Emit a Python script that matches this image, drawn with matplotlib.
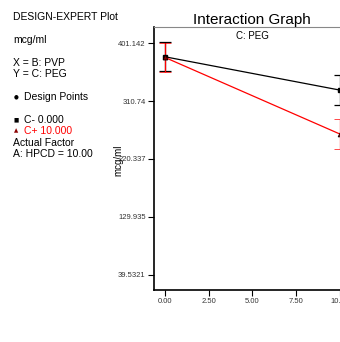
import matplotlib
matplotlib.use("Agg")
import matplotlib.pyplot as plt

plt.rcParams["font.family"] = ["Liberation Sans", "DejaVu Sans"]

# PVP levels and predicted response for the two PEG levels
pvp = [0.0, 10.0]
peg_low = [380.0, 328.0]
peg_high = [379.0, 259.5]
err_low = [23.0, 23.0]
err_high = [23.0, 23.0]

yticks = [39.5321, 129.935, 220.337, 310.74, 401.142]
ytick_labels = ["39.5321", "129.935", "220.337", "310.74", "401.142"]
xticks = [0.0, 2.5, 5.0, 7.5, 10.0]
xtick_labels = ["0.00", "2.50", "5.00", "7.50", "10.00"]

fig = plt.figure(figsize=(3.4, 3.42), dpi=100)
ax = fig.add_axes([154 / 340, 52 / 342, 196 / 340, 263 / 342])

ax.errorbar(pvp, peg_low, yerr=err_low, color="black", lw=0.9,
            marker="s", ms=3.5, capsize=4, elinewidth=0.9, capthick=0.9)
ax.errorbar(pvp, peg_high, yerr=err_high, color="red", lw=0.9,
            marker="^", ms=3.5, mfc="#8b0000", mec="black", mew=0.5,
            capsize=4, elinewidth=0.9, capthick=0.9)

ax.set_xlim(-0.62, 10.6)
ax.set_ylim(15.5, 426.5)
ax.set_xticks(xticks)
ax.set_xticklabels(xtick_labels)
ax.set_yticks(yticks)
ax.set_yticklabels(ytick_labels)
ax.tick_params(labelsize=5.5, colors="black", labelcolor="#333333",
               length=4, width=0.8, pad=2)

for side in ["left", "bottom"]:
    ax.spines[side].set_linewidth(1.2)
ax.spines["top"].set_color("#888888")
ax.spines["top"].set_linewidth(0.8)
ax.spines["right"].set_visible(False)

ax.set_title("Interaction Graph", fontsize=11, pad=2)
ax.text(0.5, 0.985, "C: PEG", transform=ax.transAxes, ha="center",
        va="top", fontsize=7)
ax.set_xlabel("B: PVP", fontsize=7.5, labelpad=32)
fig.text(118 / 340, 1 - 160 / 342, "mcg/ml", rotation=90, ha="center",
         va="center", fontsize=7)

# design-expert side panel
fs = 7.5
fig.text(13 / 340, 1 - 17 / 342, "DESIGN-EXPERT Plot", fontsize=fs, va="center")
fig.text(13 / 340, 1 - 40 / 342, "mcg/ml", fontsize=fs, va="center")
fig.text(13 / 340, 1 - 63 / 342, "X = B: PVP", fontsize=fs, va="center")
fig.text(13 / 340, 1 - 74 / 342, "Y = C: PEG", fontsize=fs, va="center")
fig.text(14 / 340, 1 - 97 / 342, "\u25cf", fontsize=4, va="center",
         family="DejaVu Sans")
fig.text(24 / 340, 1 - 97 / 342, "Design Points", fontsize=fs, va="center")
fig.text(14 / 340, 1 - 120 / 342, "\u25a0", fontsize=4, va="center",
         family="DejaVu Sans")
fig.text(24 / 340, 1 - 120 / 342, "C- 0.000", fontsize=fs, va="center")
fig.text(14 / 340, 1 - 131 / 342, "\u25b2", fontsize=4, va="center",
         color="#8b0000", family="DejaVu Sans")
fig.text(24 / 340, 1 - 131 / 342, "C+ 10.000", fontsize=fs, va="center",
         color="red")
fig.text(13 / 340, 1 - 143 / 342, "Actual Factor", fontsize=fs, va="center")
fig.text(13 / 340, 1 - 154 / 342, "A: HPCD = 10.00", fontsize=fs, va="center")

fig.savefig("out.png", dpi=100)
